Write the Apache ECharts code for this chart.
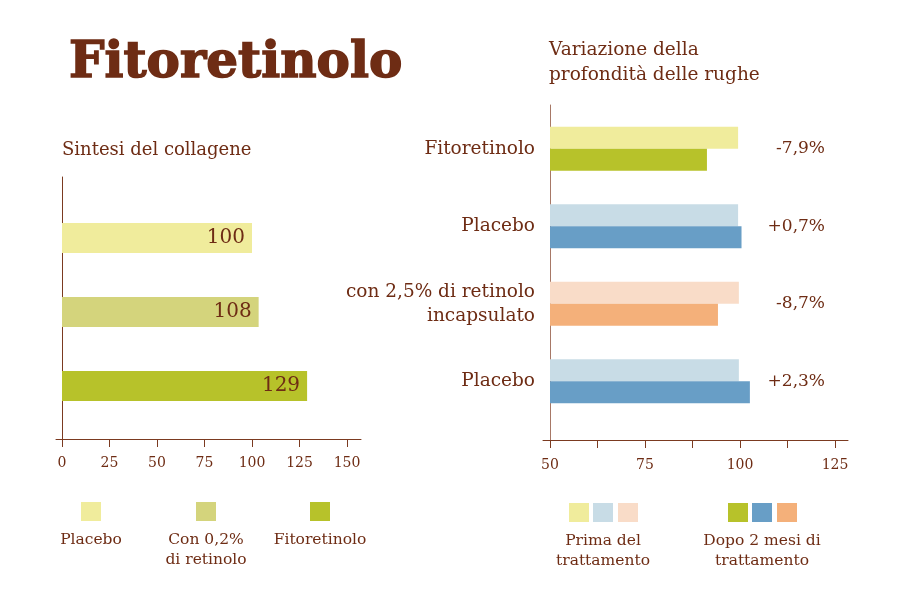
<!DOCTYPE html>
<html>
<head>
<meta charset="utf-8">
<title>Fitoretinolo</title>
<script src="https://cdn.jsdelivr.net/npm/echarts@6/dist/echarts.min.js"></script>
<style>
  html, body { margin: 0; padding: 0; background: #fff; }
  #chart { width: 900px; height: 600px; }
</style>
</head>
<body>
<div id="chart"></div>
<script>
// sintesi del collagene
const collagenCats = ['Placebo', 'Con 0,2% di retinolo', 'Fitoretinolo']
const collagenValues = [100, 103.5, 129]
const collagenLabels = ['100', '108', '129']
const collagenTicks = [0, 25, 50, 75, 100, 125, 150]

// variazione della profondità delle rughe
const rugheCats = ['Fitoretinolo', 'Placebo', 'con 2,5% di retinolo\nincapsulato', 'Placebo']
const primaValues = [99.5, 99.5, 99.7, 99.7]
const dopoValues = [91.3, 100.4, 94.2, 102.6]
const variazioni = ['-7,9%', '+0,7%', '-8,7%', '+2,3%']
const rugheTicks = [50, 62.5, 75, 87.5, 100, 112.5, 125]
const rugheTickLabels = [50, 75, 100, 125]

// colori
const brown = '#6e2c14'
const font = 'DejaVu Serif'
const collagenColors = ['#f0ec9c', '#d4d47c', '#b7c22a']
const primaColors = ['#f0ec9c', '#c8dce6', '#f9dcc8', '#c8dce6']
const dopoColors = ['#b7c22a', '#689ec6', '#f4b07a', '#689ec6']

const chart = echarts.init(document.getElementById('chart'))

// legend helper (square + caption under it)
function square(x, y, color) {
  return { type: 'rect', shape: { x: x, y: y, width: 20, height: 19 }, style: { fill: color } }
}
function caption(x, y, text) {
  return {
    type: 'text', x: x, y: y,
    style: { text: text, fill: brown, fontFamily: font, fontSize: 15.5, lineHeight: 20, align: 'center', verticalAlign: 'top' }
  }
}

chart.setOption({
  animation: false,
  title: [
    { text: 'Fitoretinolo', left: 64, top: 34,
      textStyle: { fontFamily: font, fontSize: 50, fontWeight: 'bold', color: brown, textBorderColor: brown, textBorderWidth: 1.5 } },
    { text: 'Sintesi del collagene', left: 57, top: 136,
      textStyle: { fontFamily: font, fontSize: 18, fontWeight: 'normal', color: brown } },
    { text: 'Variazione della\nprofondità delle rughe', left: 544, top: 33,
      textStyle: { fontFamily: font, fontSize: 18.5, fontWeight: 'normal', color: brown, lineHeight: 25 } }
  ],
  grid: [
    { left: 56, width: 305, top: 177, height: 262 },   // assi collagene
    { left: 56, width: 305, top: 201, height: 222 },   // barre collagene
    { left: 543, width: 305, top: 105, height: 335 },  // assi rughe
    { left: 550, width: 298, top: 110, height: 310 }   // barre rughe
  ],
  xAxis: [
    { type: 'value', gridIndex: 0, min: -3.158, max: 157.37,
      axisLine: { show: true, onZero: false, lineStyle: { color: '#7b3a20' } },
      axisTick: { show: true, length: 8, customValues: collagenTicks, lineStyle: { color: '#7b3a20' } },
      axisLabel: { customValues: collagenTicks, margin: 17, color: brown, fontFamily: font, fontSize: 14 },
      splitLine: { show: false } },
    { type: 'value', gridIndex: 1, min: -3.158, max: 157.37, show: false },
    { type: 'value', gridIndex: 2, min: 48.16, max: 128.42,
      axisLine: { show: true, onZero: false, lineStyle: { color: '#7b3a20' } },
      axisTick: { show: true, length: 8, customValues: rugheTicks, lineStyle: { color: '#7b3a20' } },
      axisLabel: { customValues: rugheTickLabels, margin: 18, color: brown, fontFamily: font, fontSize: 14 },
      splitLine: { show: false } },
    { type: 'value', gridIndex: 3, min: 50, max: 128.42, show: false }
  ],
  yAxis: [
    { type: 'value', gridIndex: 0, min: 0, max: 1, offset: -6,
      axisLine: { show: true, onZero: false, lineStyle: { color: '#7b3a20' } },
      axisTick: { show: false }, axisLabel: { show: false }, splitLine: { show: false } },
    { type: 'category', gridIndex: 1, data: collagenCats, inverse: true, show: false },
    { type: 'value', gridIndex: 2, min: 0, max: 1, offset: -7,
      axisLine: { show: true, onZero: false, lineStyle: { color: '#a77866' } },
      axisTick: { show: false }, axisLabel: { show: false }, splitLine: { show: false } },
    { type: 'category', gridIndex: 3, data: rugheCats, inverse: true,
      axisLine: { show: false }, axisTick: { show: false },
      axisLabel: { margin: 15, color: brown, fontFamily: font, fontSize: 18.5, lineHeight: 24, align: 'right', padding: [0, 0, 0, 0] } },
    { type: 'category', gridIndex: 3, data: variazioni, inverse: true, position: 'right',
      axisLine: { show: false }, axisTick: { show: false },
      axisLabel: { inside: true, margin: 23, color: brown, fontFamily: font, fontSize: 17, padding: [0, 0, 4, 0] } }
  ],
  series: [
    {
      name: 'Sintesi del collagene',
      type: 'bar',
      xAxisIndex: 1,
      yAxisIndex: 1,
      barWidth: 30,
      data: collagenValues,
      itemStyle: { color: function (p) { return collagenColors[p.dataIndex] } },
      label: {
        show: true, position: 'insideRight', distance: 7,
        color: brown, fontFamily: font, fontSize: 20,
        formatter: function (p) { return collagenLabels[p.dataIndex] }
      }
    },
    {
      name: 'Prima del trattamento',
      type: 'bar',
      xAxisIndex: 3,
      yAxisIndex: 3,
      barWidth: 22,
      barGap: '0%',
      data: primaValues,
      itemStyle: { color: function (p) { return primaColors[p.dataIndex] } }
    },
    {
      name: 'Dopo 2 mesi di trattamento',
      type: 'bar',
      xAxisIndex: 3,
      yAxisIndex: 3,
      barWidth: 22,
      barGap: '0%',
      data: dopoValues,
      itemStyle: { color: function (p) { return dopoColors[p.dataIndex] } }
    }
  ],
  graphic: [
    square(81, 502, collagenColors[0]), caption(91, 530, 'Placebo'),
    square(196, 502, collagenColors[1]), caption(206, 530, 'Con 0,2%\ndi retinolo'),
    square(310, 502, collagenColors[2]), caption(320, 530, 'Fitoretinolo'),
    square(569, 503, primaColors[0]), square(593, 503, primaColors[1]), square(618, 503, primaColors[2]),
    caption(603, 531, 'Prima del\ntrattamento'),
    square(728, 503, dopoColors[0]), square(752, 503, dopoColors[1]), square(777, 503, dopoColors[2]),
    caption(762, 531, 'Dopo 2 mesi di\ntrattamento')
  ]
})
</script>
</body>
</html>
